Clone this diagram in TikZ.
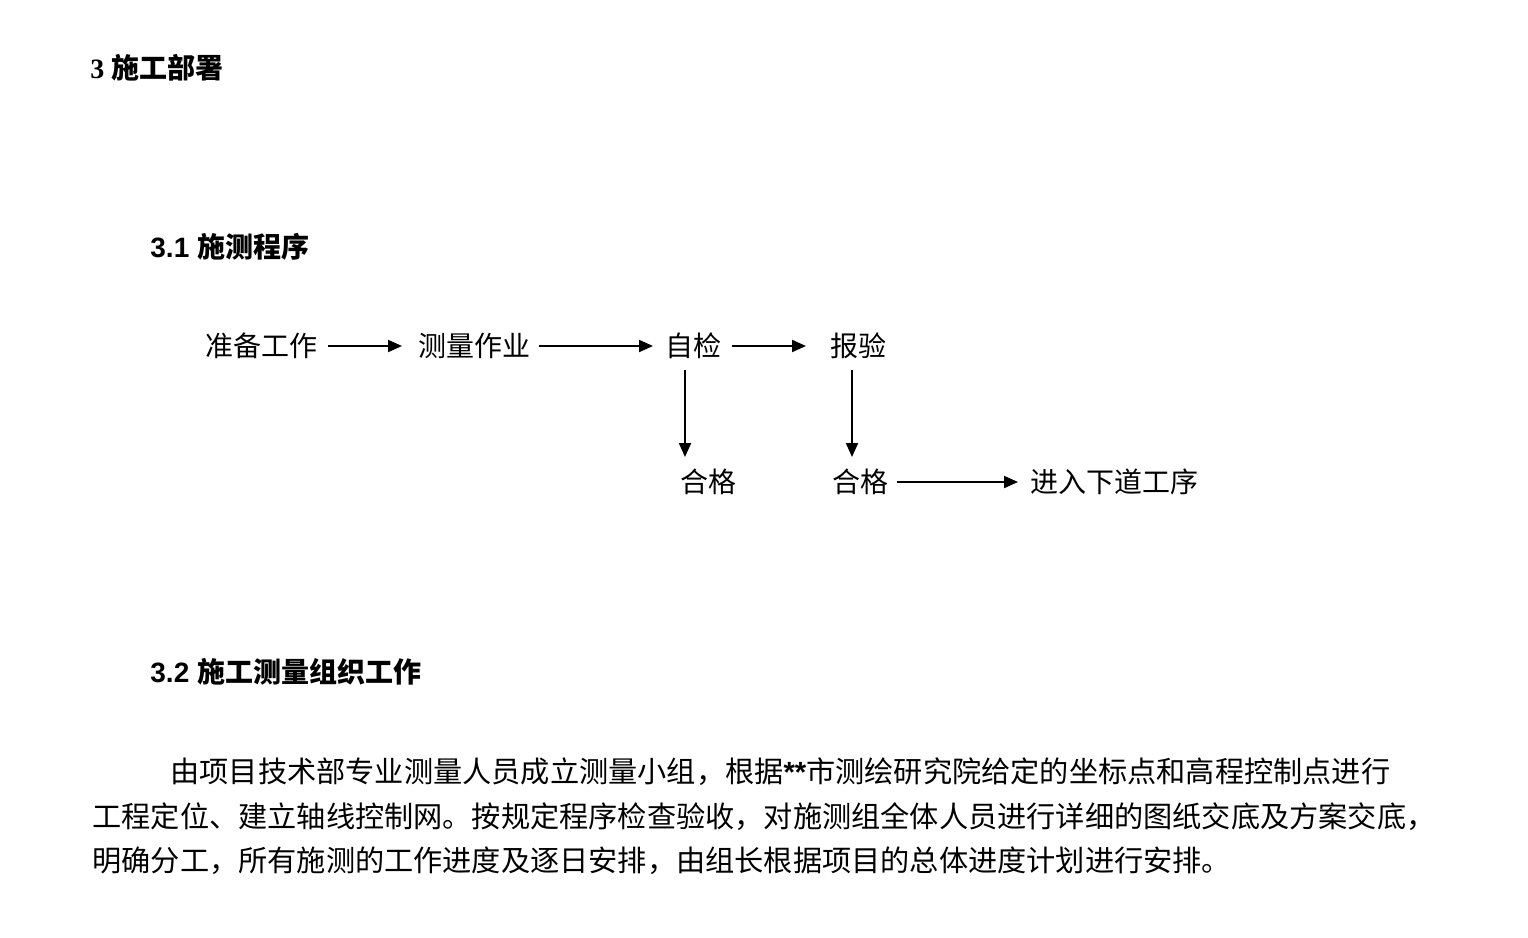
\documentclass[tikz,border=0pt]{standalone}
\usepackage{fontspec}
\setmainfont{Liberation Sans}
\newfontfamily\cjk{Noto Sans CJK SC}
\newfontfamily\cjkb{Noto Sans CJK SC Bold}
\newfontfamily\serifb{Liberation Serif}
\usetikzlibrary{arrows.meta}
\begin{document}
\begin{tikzpicture}[x=0.5pt,y=-0.5pt,
  txt/.style={anchor=west,inner sep=0pt,font=\fontsize{14}{14}\selectfont\cjk},
  hd/.style={anchor=west,inner sep=0pt,font=\fontsize{14}{14}\selectfont\bfseries},
  arr/.style={line width=1pt,-{Triangle[length=7pt,width=6pt]}}]
\useasboundingbox (0,0) rectangle (1528,938);
\node[hd] (h1) at (90,68) {\serifb\bfseries 3 \cjkb 施工部署};
\node[hd] (h2) at (150,247) {3.1 {\cjkb 施测程序}};
\node[hd] (h3) at (150,672) {3.2 {\cjkb 施工测量组织工作}};
\node[txt] (a) at (205,346) {准备工作};
\node[txt] (b) at (418,346) {测量作业};
\node[txt] (c) at (665,346) {自检};
\node[txt] (d) at (830,346) {报验};
\node[txt] (e) at (680,482) {合格};
\node[txt] (f) at (832,482) {合格};
\node[txt] (g) at (1030,482) {进入下道工序};
\draw[arr] (a.east)++(10,0) -- ([xshift=-8pt]b.west);
\draw[arr] (b.east)++(8,0) -- ([xshift=-6pt]c.west);
\draw[arr] (c.east)++(10,0) -- ([xshift=-12pt]d.west);
\draw[arr] (685,370) coordinate (c1) -- (685,457) coordinate (e1);
\draw[arr] (852,370) coordinate (d1) -- (852,457) coordinate (f1);
\draw[arr] (f.east)++(8,0) -- ([xshift=-6pt]g.west);
\node[txt,font=\fontsize{14.6}{14.6}\selectfont\cjk] (p1) at (170,772) {由项目技术部专业测量人员成立测量小组，根据{\bfseries\rmfamily **}市测绘研究院给定的坐标点和高程控制点进行};
\node[txt,font=\fontsize{14.6}{14.6}\selectfont\cjk] (p2) at (92,817) {工程定位、建立轴线控制网。按规定程序检查验收，对施测组全体人员进行详细的图纸交底及方案交底，};
\node[txt,font=\fontsize{14.6}{14.6}\selectfont\cjk] (p3) at (92,861) {明确分工，所有施测的工作进度及逐日安排，由组长根据项目的总体进度计划进行安排。};
\end{tikzpicture}
\end{document}
